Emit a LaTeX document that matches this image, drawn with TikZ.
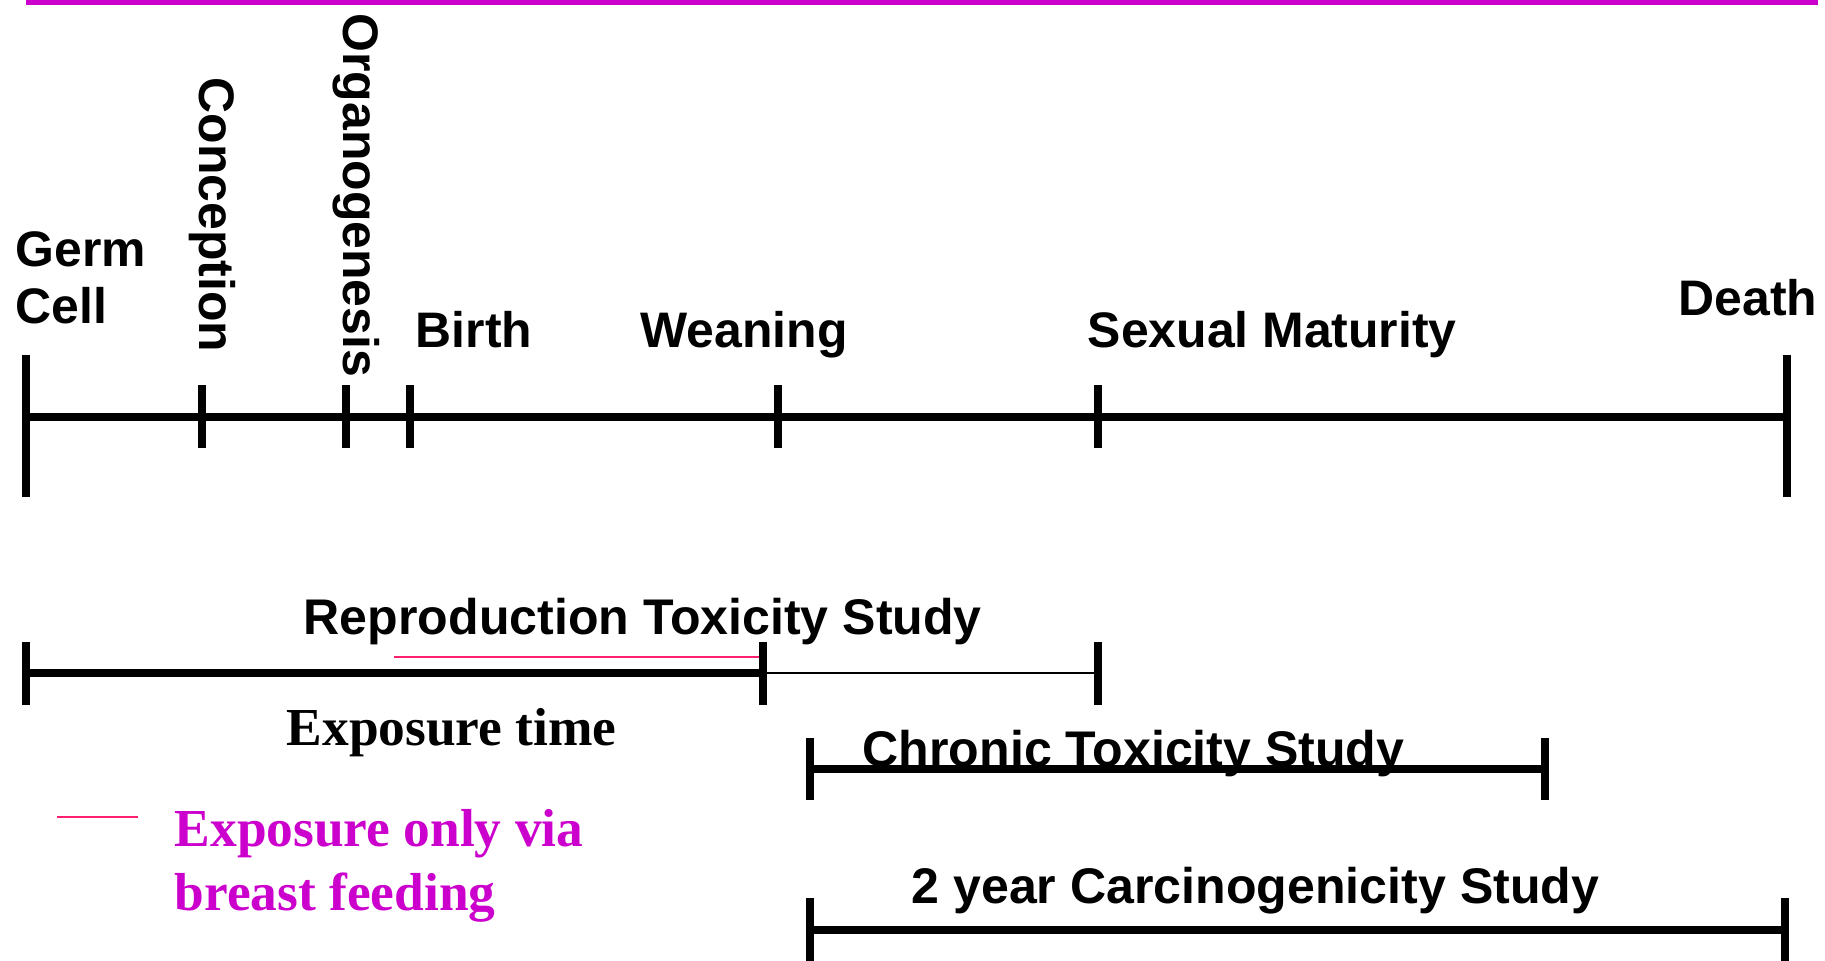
\documentclass[tikz,border=0pt]{standalone}
\usepackage{fontspec}
\setmainfont{Liberation Serif}
\setsansfont{Liberation Sans}
\usepackage{xcolor}
\definecolor{headmagenta}{HTML}{CC00CC}
\definecolor{feedpink}{HTML}{FF1F6F}

\begin{document}
\begin{tikzpicture}[
    axis/.style={line width=2.3pt},
    tick/.style={line width=2.3pt},
    thinaxis/.style={line width=0.6pt},
    milestone/.style={inner sep=0pt, font=\sffamily\bfseries\fontsize{14.2}{16}\selectfont},
    studylabel/.style={inner sep=0pt, font=\sffamily\bfseries\fontsize{14.25}{16}\selectfont},
    serifnote/.style={inner sep=0pt, font=\rmfamily\bfseries\fontsize{15.2}{18.2}\selectfont}
]
        \useasboundingbox (0, 0) rectangle (18.25, -9.60);

        % top rule
        \coordinate (ruleL) at (0.26, -0.025);
        \coordinate (ruleR) at (18.18, -0.025);
        \draw[headmagenta, line width=1.4pt] (ruleL) -- (ruleR);

        % life time axis
        \coordinate (germ) at (0.26, -4.17);
        \coordinate (conc) at (2.02, -4.17);
        \coordinate (organ) at (3.46, -4.17);
        \coordinate (birth) at (4.10, -4.17);
        \coordinate (wean) at (7.78, -4.17);
        \coordinate (sexmat) at (10.98, -4.17);
        \coordinate (death) at (17.87, -4.17);
        \draw[axis] (germ) -- (death);
        \draw[tick] ([yshift=0.62cm]germ) -- ([yshift=-0.80cm]germ);
        \draw[tick] ([yshift=0.62cm]death) -- ([yshift=-0.80cm]death);
        \foreach \p in {conc, organ, birth, wean, sexmat}
            \draw[tick] ([yshift=0.32cm]\p) -- ([yshift=-0.31cm]\p);

        \node[milestone, anchor=base west, align=left] (germlabel) at (0.15, -3.23) {Germ\\Cell};
        \node[milestone, anchor=base west, rotate=-90] (conclabel) at (1.99, -0.77) {Conception};
        \node[milestone, anchor=base west, rotate=-90] (organlabel) at (3.43, -0.13) {Organogenesis};
        \node[milestone, anchor=base west] (birthlabel) at (4.15, -3.47) {Birth};
        \node[milestone, anchor=base west] (weanlabel) at (6.40, -3.47) {Weaning};
        \node[milestone, anchor=base west] (sexmatlabel) at (10.87, -3.47) {Sexual Maturity};
        \node[milestone, anchor=base west] (deathlabel) at (16.78, -3.15) {Death};

        % reproduction study
        \coordinate (reproA) at (0.26, -6.73);
        \coordinate (reproB) at (7.63, -6.73);
        \coordinate (reproC) at (10.98, -6.73);
        \coordinate (feedA) at (3.94, -6.57);
        \coordinate (feedB) at (7.63, -6.57);
        \draw[axis] (reproA) -- (reproB);
        \draw[thinaxis] (reproB) -- (reproC);
        \draw[feedpink, line width=0.7pt] (feedA) -- (feedB);
        \foreach \p in {reproA, reproB, reproC}
            \draw[tick] ([yshift=0.31cm]\p) -- ([yshift=-0.32cm]\p);
        \node[studylabel, anchor=base west] (reprolabel) at (3.03, -6.34) {Reproduction Toxicity Study};
        \node[serifnote, anchor=base west] (exposlabel) at (2.86, -7.45) {Exposure time};

        % chronic study
        \coordinate (chronA) at (8.10, -7.69);
        \coordinate (chronB) at (15.45, -7.69);
        \draw[axis] (chronA) -- (chronB);
        \foreach \p in {chronA, chronB}
            \draw[tick] ([yshift=0.31cm]\p) -- ([yshift=-0.31cm]\p);
        \node[studylabel, anchor=base west] (chronlabel) at (8.62, -7.66) {Chronic Toxicity Study};

        % carcinogenicity study
        \coordinate (carcA) at (8.10, -9.30);
        \coordinate (carcB) at (17.85, -9.30);
        \draw[axis] (carcA) -- (carcB);
        \foreach \p in {carcA, carcB}
            \draw[tick] ([yshift=0.32cm]\p) -- ([yshift=-0.32cm]\p);
        \node[studylabel, anchor=base west] (carclabel) at (9.11, -9.03) {2 year Carcinogenicity Study};

        % legend
        \coordinate (keyA) at (0.57, -8.17);
        \coordinate (keyB) at (1.38, -8.17);
        \draw[feedpink, line width=0.7pt] (keyA) -- (keyB);
        \node[serifnote, headmagenta, anchor=base west, align=left] (keylabel) at (1.74, -9.10) {Exposure only via\\breast feeding};
\end{tikzpicture}
\end{document}
